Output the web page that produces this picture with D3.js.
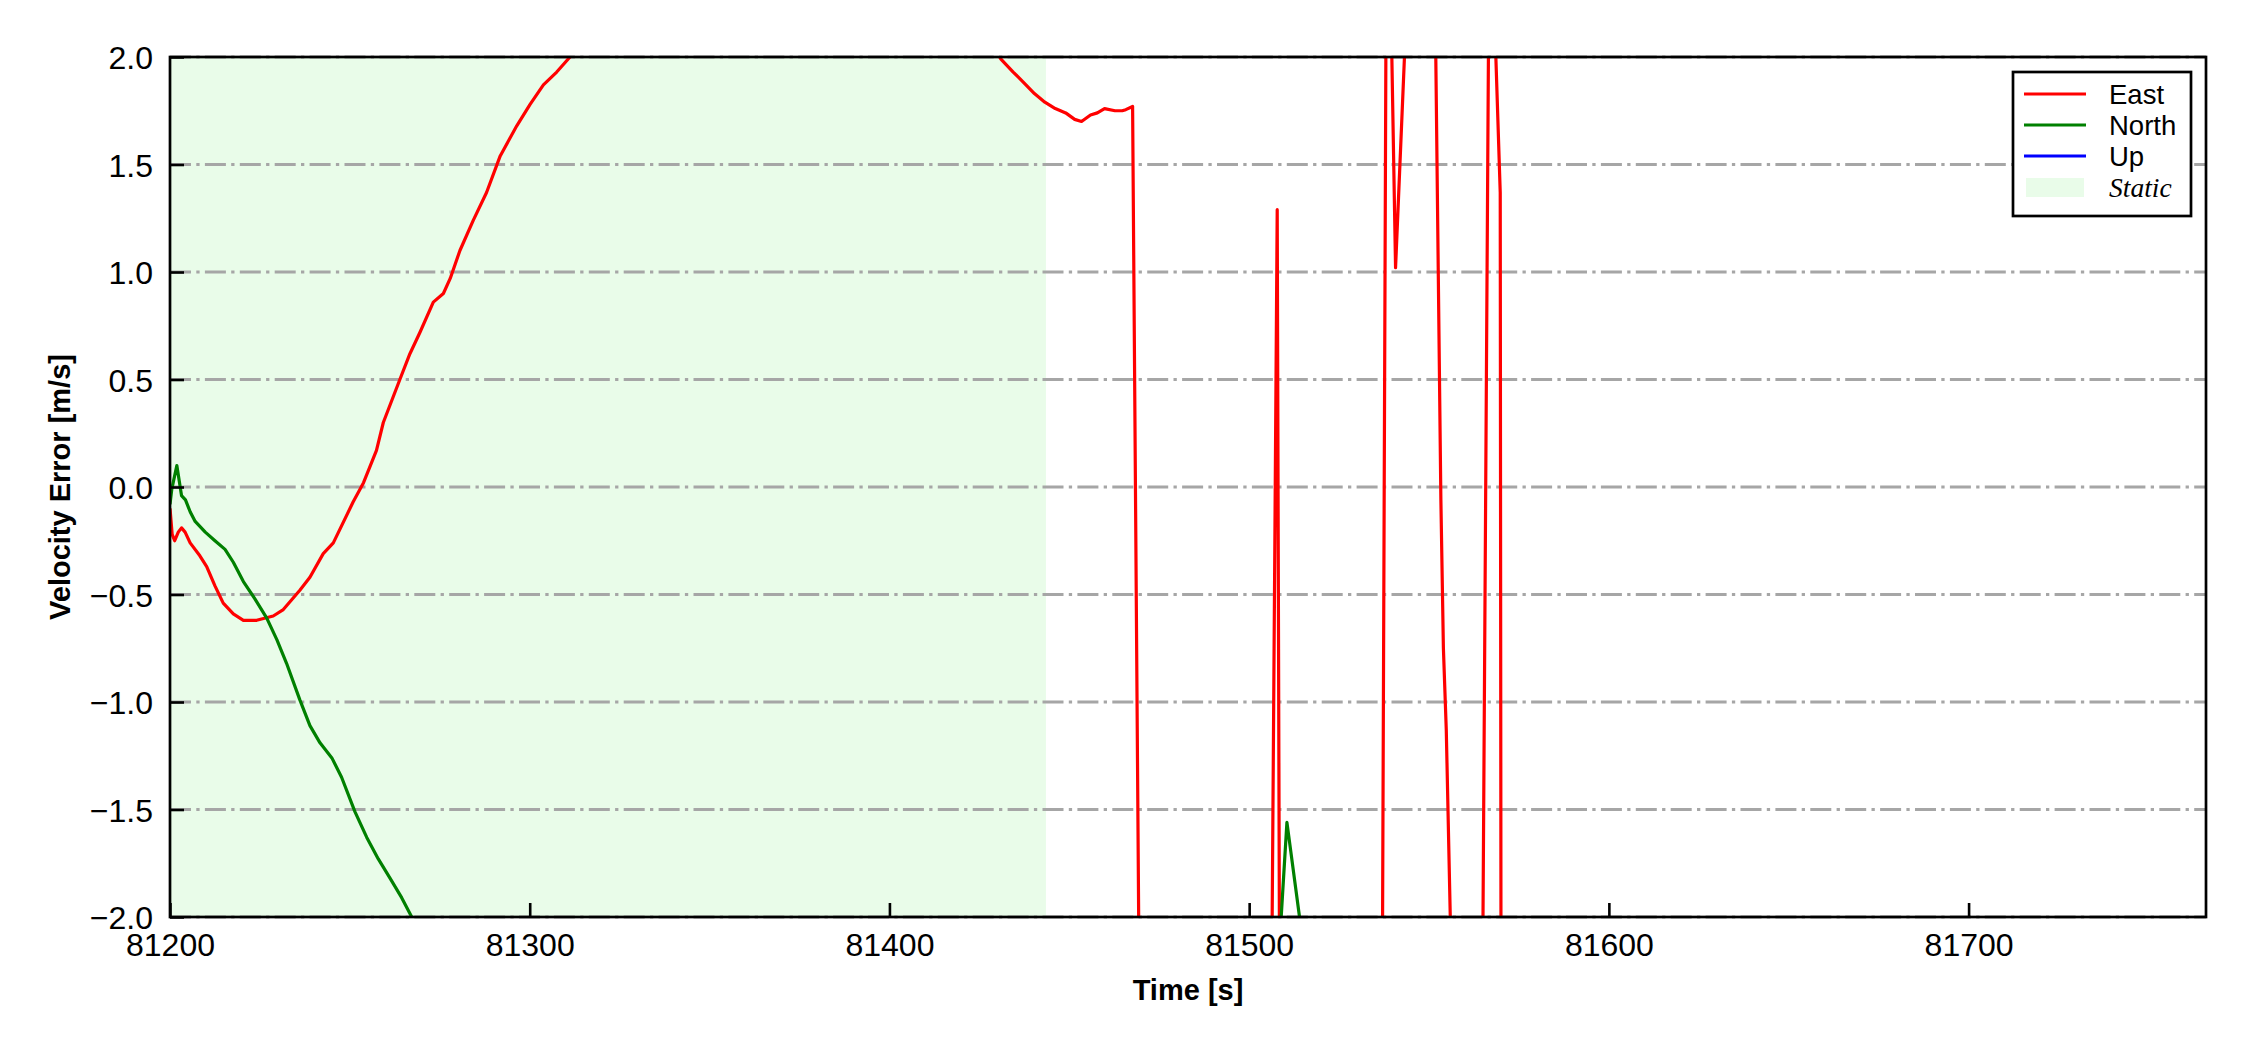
<!DOCTYPE html>
<html>
<head>
<meta charset="utf-8">
<script src="https://cdn.jsdelivr.net/npm/d3@7"></script>
<style>
  body { margin: 0; background: #ffffff; }
  svg { display: block; }
</style>
</head>
<body>
<svg id="chart"></svg>
<script>
// Velocity error samples (time in s, value in m/s)
const eastT = [81200.0, 81200.6, 81201.3, 81202.3, 81203.2, 81204.2, 81205.6, 81208.3, 81210.2, 81212.5,
    81214.8, 81217.6, 81220.4, 81224.1, 81228.7, 81231.5, 81236.1, 81238.9, 81242.6, 81245.4,
    81250.9, 81253.8, 81257.4, 81259.3, 81263.9, 81266.7, 81269.5, 81273.2, 81276.0, 81277.9,
    81280.6, 81284.3, 81288.0, 81291.8, 81296.4, 81300.1, 81303.8, 81307.5, 81311.2, 81320,
    81350, 81380, 81410, 81425, 81431.0, 81434.4, 81437.4, 81440.3, 81443.2, 81446.1,
    81449.0, 81451.5, 81453.4, 81455.9, 81457.8, 81459.8, 81462.7, 81464.7, 81465.7, 81467.6,
    81470.0, 81485, 81505.0, 81507.8, 81509.0, 81520, 81536.5, 81538.3, 81540.7, 81545.7,
    81551.2, 81553.3, 81554.0, 81554.8, 81556.3, 81560, 81564.3, 81567.0, 81568.0, 81569.8,
    81570.1, 81600, 81650, 81700, 81766];
const eastV = [-0.10, -0.22, -0.25, -0.21, -0.19, -0.21, -0.26, -0.32, -0.37, -0.46,
    -0.54, -0.59, -0.62, -0.62, -0.60, -0.57, -0.48, -0.42, -0.31, -0.26,
    -0.07, 0.02, 0.17, 0.30, 0.50, 0.62, 0.72, 0.86, 0.90, 0.97,
    1.10, 1.24, 1.37, 1.54, 1.68, 1.78, 1.87, 1.93, 2.00, 2.25,
    2.55, 2.60, 2.40, 2.15, 1.99, 1.93, 1.88, 1.83, 1.79, 1.76,
    1.74, 1.71, 1.70, 1.73, 1.74, 1.76, 1.75, 1.75, 1.755, 1.77,
    -3.6, -4.5, -5.3, 1.29, -5.3, -5.0, -4.6, 3.3, 1.02, 3.0,
    3.0, -0.06, -0.75, -1.13, -2.3, -4.2, -3.9, 3.3, 2.3, 1.37,
    -3.7, -4.5, -5.0, -4.8, -5.1];

const northT = [81200.0, 81200.5, 81201.9, 81203.2, 81204.3, 81205.6, 81207.0, 81209.8, 81212.5, 81215.3,
    81217.6, 81220.4, 81223.6, 81226.9, 81229.7, 81232.4, 81236.1, 81238.9, 81241.7, 81245.0,
    81247.7, 81251.4, 81254.7, 81257.9, 81261.2, 81264.4, 81267.2, 81270, 81300, 81400,
    81480, 81508.0, 81510.5, 81514.8, 81530, 81600, 81766];
const northV = [-0.08, -0.01, 0.10, -0.04, -0.06, -0.115, -0.16, -0.21, -0.25, -0.29,
    -0.35, -0.44, -0.52, -0.61, -0.71, -0.82, -0.99, -1.11, -1.19, -1.26,
    -1.35, -1.51, -1.63, -1.73, -1.82, -1.91, -2.0, -2.1, -2.5, -3.0,
    -2.8, -2.25, -1.56, -2.1, -3.0, -3.5, -3.8];

// Up stays outside the visible range
const upT = [81200, 81400, 81600, 81766];
const upV = [-2.6, -3.1, -3.4, -3.2];

const staticSpan = [81200, 81443.5];
const xTicks = [81200, 81300, 81400, 81500, 81600, 81700];
const yTicks = [-2.0, -1.5, -1.0, -0.5, 0.0, 0.5, 1.0, 1.5, 2.0];

const series = [
    { name: "East", color: "#ff0000", t: eastT, v: eastV },
    { name: "North", color: "#008000", t: northT, v: northV },
    { name: "Up", color: "#0000ff", t: upT, v: upV }
];

// Canvas and plot box
const width = 2250, height = 1050;
const margin = { left: 170, right: 44, top: 57, bottom: 133 };
const plotW = width - margin.left - margin.right;
const plotH = height - margin.top - margin.bottom;
const font = "'Liberation Sans', Arial, sans-serif";

const svg = d3.select("#chart")
    .attr("width", width)
    .attr("height", height);

svg.append("rect").attr("width", width).attr("height", height).attr("fill", "#ffffff");

const x = d3.scaleLinear().domain([81200, 81766]).range([0, plotW]);
const y = d3.scaleLinear().domain([-2, 2]).range([plotH, 0]);

const g = svg.append("g").attr("transform", `translate(${margin.left},${margin.top})`);

g.append("clipPath").attr("id", "clip")
    .append("rect").attr("width", plotW).attr("height", plotH);

// Static period shading
g.append("rect")
    .attr("x", x(staticSpan[0]))
    .attr("y", 0)
    .attr("width", x(staticSpan[1]) - x(staticSpan[0]))
    .attr("height", plotH)
    .attr("fill", "rgb(233, 252, 233)");

// Horizontal dash-dot grid
g.append("g")
    .selectAll("line")
    .data(yTicks)
    .join("line")
    .attr("x1", 0)
    .attr("x2", plotW)
    .attr("y1", d => y(d))
    .attr("y2", d => y(d))
    .attr("stroke", "#a6a6a6")
    .attr("stroke-width", 3)
    .attr("stroke-dasharray", "21,5.3,3.3,5.3");

// Series lines
const line = d3.line()
    .x(d => d[0])
    .y(d => d[1]);

series.forEach(s => {
    const pts = s.t.map((t, i) => [x(t), y(s.v[i])]);
    g.append("path")
        .attr("clip-path", "url(#clip)")
        .attr("d", line(pts))
        .attr("fill", "none")
        .attr("stroke", s.color)
        .attr("stroke-width", 3.2)
        .attr("stroke-linejoin", "round");
});

// Axes with inward ticks
const fmtY = d => d3.format(".1f")(d).replace("-", "\u2212");

const xAxis = g.append("g")
    .attr("transform", `translate(0,${plotH})`)
    .call(d3.axisBottom(x).tickValues(xTicks).tickFormat(d3.format("d")).tickSizeInner(-14).tickSizeOuter(0));

const yAxis = g.append("g")
    .call(d3.axisLeft(y).tickValues(yTicks).tickFormat(fmtY).tickSizeInner(-14).tickSizeOuter(0));

[xAxis, yAxis].forEach(ax => {
    ax.select(".domain").remove();
    ax.selectAll(".tick line").attr("stroke", "#000").attr("stroke-width", 2.6);
    ax.selectAll(".tick text")
        .attr("font-family", font)
        .attr("font-size", 32)
        .attr("fill", "#000");
});

// place tick labels explicitly (baseline / right edge)
xAxis.selectAll(".tick text").attr("y", 39).attr("dy", null);
yAxis.selectAll(".tick text").attr("x", -17).attr("dy", "0.36em");

// Plot frame
g.append("rect")
    .attr("width", plotW)
    .attr("height", plotH)
    .attr("fill", "none")
    .attr("stroke", "#000")
    .attr("stroke-width", 2.7);

// Axis labels
svg.append("text")
    .attr("x", margin.left + plotW / 2)
    .attr("y", 1000)
    .attr("text-anchor", "middle")
    .attr("font-family", font)
    .attr("font-weight", "bold")
    .attr("font-size", 29)
    .text("Time [s]");

svg.append("text")
    .attr("transform", `translate(70,${margin.top + plotH / 2}) rotate(-90)`)
    .attr("text-anchor", "middle")
    .attr("font-family", font)
    .attr("font-weight", "bold")
    .attr("font-size", 29)
    .text("Velocity Error [m/s]");

// Legend
const legend = svg.append("g").attr("transform", "translate(2013,72)");
legend.append("rect")
    .attr("width", 178)
    .attr("height", 144)
    .attr("fill", "#ffffff")
    .attr("stroke", "#000")
    .attr("stroke-width", 2.7);

series.forEach((s, i) => {
    const cy = 22 + i * 31;
    legend.append("line")
        .attr("x1", 11).attr("x2", 73)
        .attr("y1", cy).attr("y2", cy)
        .attr("stroke", s.color)
        .attr("stroke-width", 3);
    legend.append("text")
        .attr("x", 96)
        .attr("y", cy + 10)
        .attr("font-family", font)
        .attr("font-size", 27.5)
        .text(s.name);
});

legend.append("rect")
    .attr("x", 13).attr("y", 106)
    .attr("width", 58).attr("height", 19)
    .attr("fill", "rgb(233, 252, 233)");
legend.append("text")
    .attr("x", 96)
    .attr("y", 125)
    .attr("font-family", "'Liberation Serif', 'Times New Roman', serif")
    .attr("font-style", "italic")
    .attr("font-size", 27.5)
    .text("Static");
</script>
</body>
</html>
